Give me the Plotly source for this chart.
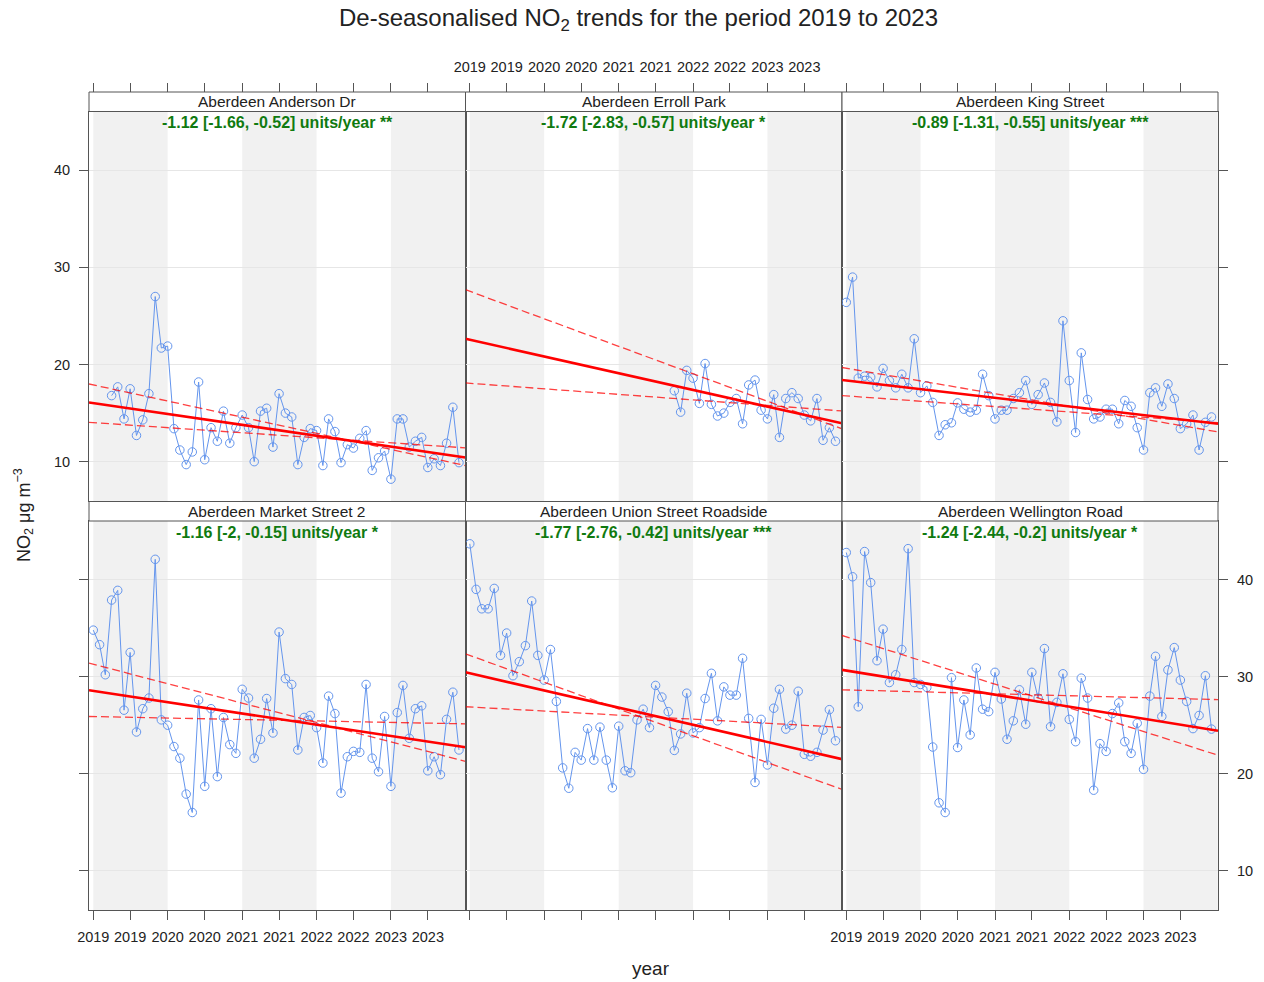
import datetime as dt
import plotly.graph_objects as go

W, H = 1264, 982

# ---------------- data ----------------
sites = ["Aberdeen Anderson Dr", "Aberdeen Erroll Park", "Aberdeen King Street",
         "Aberdeen Market Street 2", "Aberdeen Union Street Roadside", "Aberdeen Wellington Road"]

# month offset (from Jan 2019) of the first monthly value of each site
start_month = [3, 33, 0, 0, 0, 0]

anderson = [16.8, 17.7, 14.4, 17.5, 12.7, 14.3, 17.0, 27.0, 21.7, 21.9, 13.4, 11.2, 9.7, 11.0,
            18.2, 10.2, 13.5, 12.1, 15.2, 11.9, 13.5, 14.8, 13.5, 10.0, 15.2, 15.5, 11.5, 17.0,
            15.0, 14.6, 9.7, 12.5, 13.4, 13.2, 9.6, 14.4, 13.1, 9.9, 11.75, 11.4, 12.4, 13.2,
            9.1, 10.4, 11.1, 8.2, 14.4, 14.4, 11.5, 12.1, 12.5, 9.4, 10.3, 9.6, 11.9, 15.6, 9.9]
erroll = [17.3, 15.1, 19.4, 18.6, 16.0, 20.1, 15.9, 14.7, 15.0, 16.1, 16.5, 13.9, 17.9, 18.4,
          15.3, 14.4, 16.9, 12.5, 16.5, 17.1, 16.5, 14.8, 14.2, 16.5, 12.2, 13.5, 12.1]
king = [26.4, 29.0, 18.6, 18.8, 18.7, 17.7, 19.6, 18.35, 17.6, 19.0, 17.6, 22.65, 17.1, 17.8,
        16.1, 12.7, 13.8, 14.0, 16.05, 15.4, 15.1, 15.3, 19.0, 16.8, 14.4, 15.3, 15.3, 16.5,
        17.1, 18.35, 15.9, 16.9, 18.1, 16.1, 14.1, 24.5, 18.35, 13.0, 21.2, 16.4, 14.4, 14.6,
        15.4, 15.4, 13.9, 16.3, 15.7, 13.5, 11.2, 17.1, 17.6, 15.7, 18.0, 16.5, 13.4, 13.9,
        14.8, 11.2, 14.05, 14.6]
market = [34.8, 33.3, 30.2, 37.9, 38.9, 26.55, 32.5, 24.3, 26.7, 27.8, 42.1, 25.55, 25.0, 22.8,
          21.6, 17.9, 16.0, 27.6, 18.7, 26.7, 19.7, 25.8, 23.0, 22.1, 28.7, 27.8, 21.6, 23.55,
          27.75, 24.2, 34.6, 29.8, 29.2, 22.45, 25.8, 26.0, 24.75, 21.1, 28.0, 26.2, 18.0, 21.75,
          22.3, 22.2, 29.2, 21.6, 20.2, 25.9, 18.7, 26.3, 29.1, 23.65, 26.7, 27.0, 20.3, 21.75,
          19.9, 25.6, 28.4, 22.45]
union = [43.7, 39.0, 37.0, 37.0, 39.1, 32.2, 34.5, 30.1, 31.55, 33.2, 37.8, 32.2, 29.65, 32.8,
         27.45, 20.6, 18.5, 22.2, 21.4, 24.65, 21.4, 24.8, 21.4, 18.55, 24.9, 20.3, 20.1, 25.55,
         26.65, 24.75, 29.1, 27.9, 26.4, 22.4, 24.1, 28.3, 24.2, 24.75, 27.75, 30.35, 25.45, 28.95,
         28.1, 28.1, 31.9, 25.7, 19.1, 25.6, 20.9, 26.75, 28.7, 24.6, 25.0, 28.5, 22.0, 21.8,
         22.2, 24.5, 26.6, 23.4]
wellington = [42.8, 40.3, 26.9, 42.9, 39.7, 31.65, 34.9, 29.4, 30.2, 32.8, 43.2, 29.4, 29.2, 28.9,
              22.75, 17.0, 16.0, 29.9, 22.7, 27.6, 24.0, 30.9, 26.65, 26.4, 30.45, 27.7, 23.55,
              25.45, 28.65, 25.1, 30.45, 27.8, 32.9, 24.85, 27.35, 30.3, 25.6, 23.3, 29.85, 27.8,
              18.3, 23.1, 22.3, 26.2, 27.3, 23.3, 22.1, 25.2, 20.45, 28.0, 32.1, 25.9, 30.7, 33.0,
              29.65, 27.45, 24.65, 26.0, 30.1, 24.6]
series = [anderson, erroll, king, market, union, wellington]

slope = [-1.12, -1.72, -0.89, -1.16, -1.77, -1.24]
slope_lower = [-1.66, -2.83, -1.31, -2, -2.76, -2.44]
slope_upper = [-0.52, -0.57, -0.55, -0.15, -0.42, -0.2]
stars = ["**", "*", "***", "*", "***", "*"]
# fitted trend value at 2019-01-01 for the central line and the two slope-bound lines
fit_start = [16.03, 22.55, 18.35, 28.53, 30.35, 30.63]
fit_start_lower = [17.9, 27.54, 19.62, 31.28, 32.19, 34.11]
fit_start_upper = [14.02, 18.07, 16.77, 25.89, 26.88, 28.64]

tick_dates = ["2019-01-01", "2019-07-01", "2020-01-01", "2020-07-01", "2021-01-01",
              "2021-07-01", "2022-01-01", "2022-07-01", "2023-01-01", "2023-07-01"]
tick_labels = ["2019", "2019", "2020", "2020", "2021", "2021", "2022", "2022", "2023", "2023"]
y_ticks = [10, 20, 30, 40]
shaded_years = [2019, 2021, 2023]

x_range = ["2018-12-11", "2024-01-02"]
y_range = [5.95, 46.05]

# ---------------- layout geometry (pixels) ----------------
col_px = [(89, 465.5), (465.5, 842), (842, 1218)]
panel_px = [(111.5, 501), (521, 910)]
strip_px = [(92, 111.5), (501.5, 521)]

def fx(p):
    return p / W

def fy(p):
    return 1 - p / H

FONT = "Liberation Sans, Arial, Helvetica, sans-serif"
TXT = "#222222"
FRAME = "#555555"
TICK_SIZE = 14.5

ref = dt.date(2019, 1, 1)

def month_date(k):
    return dt.date(2019 + k // 12, k % 12 + 1, 1)

def years_since(d):
    return (d - ref).days / 365.25

x_lo = dt.date.fromisoformat(x_range[0])
x_hi = dt.date.fromisoformat(x_range[1])

fig = go.Figure()
shapes = []
annotations = []
layout = {}

for i in range(6):
    r, c = divmod(i, 3)
    n = i + 1
    xa = "x" if n == 1 else f"x{n}"
    ya = "y" if n == 1 else f"y{n}"

    # shaded years
    for yr in shaded_years:
        a = max(dt.date(yr, 1, 1), x_lo)
        b = min(dt.date(yr + 1, 1, 1), x_hi)
        shapes.append(dict(type="rect", xref=xa, yref=f"{ya} domain", x0=a.isoformat(),
                           x1=b.isoformat(), y0=0, y1=1, fillcolor="#f1f1f1",
                           line=dict(width=0), layer="below"))

    vals = series[i]
    dates = [month_date(start_month[i] + k).isoformat() for k in range(len(vals))]
    fig.add_trace(go.Scatter(x=dates, y=vals, mode="lines+markers", xaxis=xa, yaxis=ya,
                             line=dict(color="cornflowerblue", width=1),
                             marker=dict(symbol="circle-open", size=8.5,
                                         line=dict(color="cornflowerblue", width=1)),
                             showlegend=False, hoverinfo="x+y"))

    ends = [x_lo, x_hi]
    for f0, s, w, dash, col in [(fit_start_lower[i], slope_lower[i], 1.3, "8px,4px", "rgba(255,0,0,0.75)"),
                                (fit_start_upper[i], slope_upper[i], 1.3, "8px,4px", "rgba(255,0,0,0.75)"),
                                (fit_start[i], slope[i], 2.6, "solid", "#ff0000")]:
        fig.add_trace(go.Scatter(x=[d.isoformat() for d in ends],
                                 y=[f0 + s * years_since(d) for d in ends],
                                 mode="lines", xaxis=xa, yaxis=ya,
                                 line=dict(color=col, width=w, dash=dash),
                                 showlegend=False, hoverinfo="skip"))

    x0p, x1p = col_px[c]
    y0p, y1p = panel_px[r]

    # x axis
    xdict = dict(domain=[fx(x0p), fx(x1p)], anchor=ya, type="date", range=x_range,
                 automargin=False,
                 showline=True, mirror=True, linecolor=FRAME, linewidth=1,
                 showgrid=False, zeroline=False, tickvals=tick_dates, ticktext=tick_labels,
                 tickfont=dict(family=FONT, size=TICK_SIZE, color=TXT))
    if r == 0:
        xdict.update(ticks="", showticklabels=False)
    else:
        xdict.update(ticks="outside", ticklen=9, tickcolor=FRAME, tickwidth=1,
                     showticklabels=(c != 1), ticklabelstandoff=5)
    layout["xaxis" if n == 1 else f"xaxis{n}"] = xdict

    # y axis
    ydict = dict(domain=[fy(y1p), fy(y0p)], anchor=xa, range=y_range, automargin=False,
                 showline=True, mirror=True, linecolor=FRAME, linewidth=1,
                 showgrid=True, gridcolor="#e6e6e6", gridwidth=1, zeroline=False,
                 tickvals=y_ticks, tickfont=dict(family=FONT, size=TICK_SIZE, color=TXT))
    if c == 1:
        ydict.update(ticks="", showticklabels=False)
    else:
        ydict.update(ticks="outside", ticklen=9, tickcolor=FRAME, tickwidth=1,
                     side="left" if c == 0 else "right",
                     showticklabels=(i == 0 or i == 5), ticklabelstandoff=6)
    layout["yaxis" if n == 1 else f"yaxis{n}"] = ydict

    # strip
    s0, s1 = strip_px[r]
    shapes.append(dict(type="rect", xref="paper", yref="paper", x0=fx(x0p), x1=fx(x1p),
                       y0=fy(s1), y1=fy(s0), fillcolor="white",
                       line=dict(color=FRAME, width=1), layer="above"))
    annotations.append(dict(xref="paper", yref="paper", x=fx((x0p + x1p) / 2), y=fy((s0 + s1) / 2),
                            text=sites[i], showarrow=False, xanchor="center", yanchor="middle",
                            font=dict(family=FONT, size=15.5, color=TXT)))

    # trend label
    label = f"{slope[i]:g} [{slope_lower[i]:g}, {slope_upper[i]:g}] units/year {stars[i]}"
    annotations.append(dict(xref=f"{xa} domain", yref=f"{ya} domain", x=0.5, y=1,
                            text=f"<b>{label}</b>", showarrow=False, xanchor="center",
                            yanchor="top", yshift=-1,
                            font=dict(family=FONT, size=16, color="#107a10")))

# top axes (ticks above the strips of the top row)
for c in range(3):
    n = 7 + c
    base = "x" if c == 0 else f"x{c + 1}"
    layout[f"xaxis{n}"] = dict(overlaying=base, anchor="free", position=fy(strip_px[0][0]),
                               side="top", type="date", range=x_range, showline=False,
                               automargin=False,
                               showgrid=False, zeroline=False, ticks="outside", ticklen=9,
                               tickcolor=FRAME, tickwidth=1, tickvals=tick_dates,
                               ticktext=tick_labels, showticklabels=(c == 1),
                               ticklabelstandoff=5,
                               tickfont=dict(family=FONT, size=TICK_SIZE, color=TXT))
for c in range(3):
    fig.add_trace(go.Scatter(x=[], y=[], xaxis=f"x{7 + c}", yaxis="y" if c == 0 else f"y{c + 1}",
                             showlegend=False, hoverinfo="skip"))

annotations.append(dict(xref="paper", yref="paper", x=fx(638), y=fy(19),
                        text="De-seasonalised NO<sub>2</sub> trends for the period 2019 to 2023",
                        showarrow=False, xanchor="center", yanchor="middle",
                        font=dict(family=FONT, size=24, color=TXT)))
annotations.append(dict(xref="paper", yref="paper", x=fx(651), y=fy(968), text="year",
                        showarrow=False, xanchor="center", yanchor="middle",
                        font=dict(family=FONT, size=19, color=TXT)))
annotations.append(dict(xref="paper", yref="paper", x=fx(23), y=fy(515),
                        text="NO<sub>2</sub> \u03bcg m<sup>\u22123</sup>", textangle=-90,
                        showarrow=False, xanchor="center", yanchor="middle",
                        font=dict(family=FONT, size=18, color=TXT)))

fig.update_layout(width=W, height=H, margin=dict(l=0, r=0, t=0, b=0, autoexpand=False),
                  paper_bgcolor="white", plot_bgcolor="white",
                  shapes=shapes, annotations=annotations, showlegend=False, **layout)

fig.write_html("out.html")
